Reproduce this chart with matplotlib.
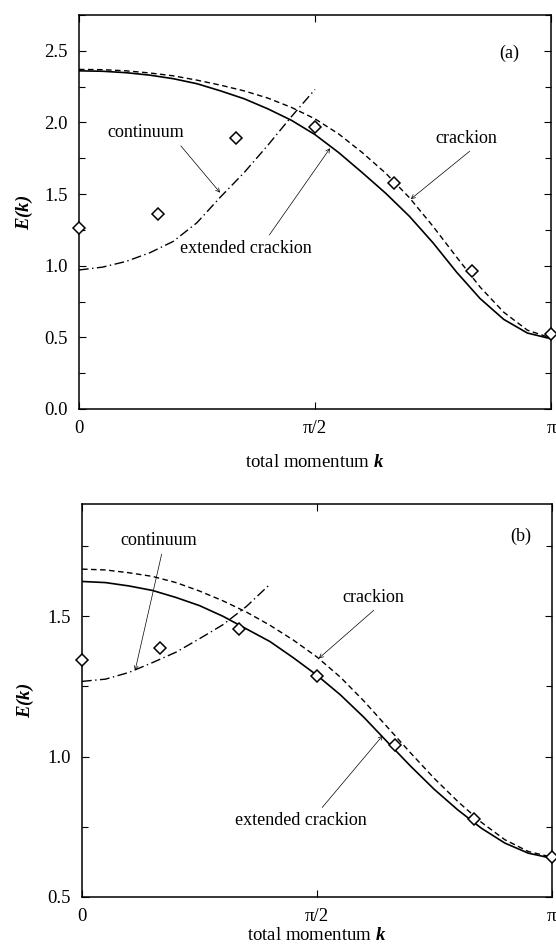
"""Crackion dispersion, panels (a) and (b)"""

import numpy as np
import matplotlib
matplotlib.use("Agg")
import matplotlib.pyplot as plt
from matplotlib.ticker import MultipleLocator

plt.rcParams['font.family'] = ['Liberation Serif', 'DejaVu Serif']
plt.rcParams['mathtext.fontset'] = 'custom'
plt.rcParams['mathtext.rm'] = 'Liberation Serif'
plt.rcParams['mathtext.it'] = 'Liberation Serif:italic'
plt.rcParams['mathtext.bf'] = 'Liberation Serif:bold:italic'

# k in units of pi
k_pts = [0, 1/6, 2/6, 3/6, 4/6, 5/6, 1]
k_curve = [0, 0.05, 0.1, 0.15, 0.2, 0.25, 0.3, 0.35, 0.4, 0.45, 0.5,
           0.55, 0.6, 0.65, 0.7, 0.75, 0.8, 0.85, 0.9, 0.95, 1.0]
k_cont_a = [0, 0.05, 0.1, 0.15, 0.2, 0.25, 0.3, 0.35, 0.4, 0.45, 0.5]
k_cont_b = [0, 0.05, 0.1, 0.15, 0.2, 0.25, 0.3, 0.35, 0.4]

# panel (a)
pts_a = [1.26, 1.36, 1.89, 1.97, 1.58, 0.96, 0.52]
ext_a = [2.36, 2.357, 2.347, 2.33, 2.305, 2.27, 2.22, 2.165, 2.095, 2.015, 1.915,
         1.79, 1.65, 1.505, 1.345, 1.16, 0.955, 0.77, 0.625, 0.53, 0.49]
crk_a = [2.37, 2.368, 2.36, 2.345, 2.325, 2.295, 2.26, 2.22, 2.17, 2.105, 2.025,
         1.92, 1.79, 1.645, 1.475, 1.275, 1.06, 0.85, 0.675, 0.55, 0.495]
cont_a = [0.97, 0.99, 1.03, 1.09, 1.17, 1.30, 1.48, 1.65, 1.84, 2.04, 2.23]

# panel (b)
pts_b = [1.343, 1.386, 1.454, 1.286, 1.043, 0.779, 0.643]
ext_b = [1.624, 1.62, 1.608, 1.592, 1.567, 1.538, 1.50, 1.455, 1.41, 1.352, 1.29,
         1.22, 1.14, 1.052, 0.965, 0.883, 0.81, 0.745, 0.692, 0.656, 0.638]
crk_b = [1.668, 1.665, 1.655, 1.642, 1.62, 1.59, 1.555, 1.515, 1.468, 1.415, 1.355,
         1.283, 1.198, 1.105, 1.012, 0.922, 0.84, 0.766, 0.704, 0.662, 0.642]
cont_b = [1.268, 1.276, 1.300, 1.335, 1.372, 1.42, 1.47, 1.535, 1.614]

xtick_labels = ['0', 'π/2', 'π']

fig = plt.figure(figsize=(5.56, 9.52), dpi=100)
ax_a = fig.add_axes([0.142, 0.5704, 0.849, 0.4139])
ax_b = fig.add_axes([0.1475, 0.0578, 0.845, 0.4128])

arrow = dict(arrowstyle='->', lw=0.5, color='black', shrinkA=2, shrinkB=0,
             mutation_scale=7)


def draw(ax, ext, crk, cont, k_cont, pts, ylim, xpad, ypad):
    pi = np.pi
    ax.plot(np.array(k_curve) * pi, ext, color='black', lw=1.2)
    ax.plot(np.array(k_curve) * pi, crk, color='black', lw=1.0,
            dashes=(4, 2.5))
    ax.plot(np.array(k_cont) * pi, cont, color='black', lw=1.0,
            dashes=(7, 2.5, 1, 2.5))
    ax.plot(np.array(k_pts) * pi, pts, 'D', ms=6, mfc='white', mec='black',
            mew=1.1, clip_on=False, zorder=5)
    ax.set_xlim(0, pi)
    ax.set_ylim(*ylim)
    ax.set_xticks([0, pi / 2, pi])
    ax.set_xticklabels(xtick_labels)
    ax.yaxis.set_major_locator(MultipleLocator(0.5))
    ax.yaxis.set_minor_locator(MultipleLocator(0.25))
    ax.yaxis.set_major_formatter(lambda v, p: f"{v:.1f}")
    ax.tick_params(which='both', direction='in', top=True, right=True,
                   labelsize=13.5, pad=8, width=0.8)
    ax.tick_params(which='major', length=5)
    ax.tick_params(which='minor', length=4)
    for s in ax.spines.values():
        s.set_linewidth(1.1)
    ax.set_xlabel(r'total momentum $\mathbf{k}$', fontsize=13.5, labelpad=xpad)
    ax.set_ylabel(r'$\mathbf{E(k)}$', fontsize=13.5, labelpad=ypad)


draw(ax_a, ext_a, crk_a, cont_a, k_cont_a, pts_a, (0, 2.75), 12.5, 6.5)
draw(ax_b, ext_b, crk_b, cont_b, k_cont_b, pts_b, (0.5, 1.9), 1.5, 8)

pi = np.pi
fs = 13
# panel (a) labels
ax_a.text(0.911 * pi, 2.48, '(a)', fontsize=fs, ha='center', va='center')
ax_a.annotate('continuum', xy=(0.299 * pi, 1.51), xytext=(0.142 * pi, 1.93),
              fontsize=fs, ha='center', va='center',
              arrowprops=dict(arrow, relpos=(0.9, 0)))
ax_a.annotate('extended crackion', xy=(0.532 * pi, 1.82),
              xytext=(0.354 * pi, 1.12), fontsize=fs, ha='center', va='center',
              arrowprops=dict(arrow, relpos=(0.65, 1)))
ax_a.annotate('crackion', xy=(0.703 * pi, 1.465), xytext=(0.82 * pi, 1.89),
              fontsize=fs, ha='center', va='center',
              arrowprops=dict(arrow, relpos=(0.65, 0)))

# panel (b) labels
ax_b.text(0.934 * pi, 1.786, '(b)', fontsize=fs, ha='center', va='center')
ax_b.annotate('continuum', xy=(0.113 * pi, 1.307), xytext=(0.164 * pi, 1.771),
              fontsize=fs, ha='center', va='center',
              arrowprops=dict(arrow, relpos=(0.55, 0)))
ax_b.annotate('crackion', xy=(0.504 * pi, 1.35), xytext=(0.619 * pi, 1.568),
              fontsize=fs, ha='center', va='center',
              arrowprops=dict(arrow, relpos=(0.6, 0)))
ax_b.annotate('extended crackion', xy=(0.640 * pi, 1.075),
              xytext=(0.466 * pi, 0.771), fontsize=fs, ha='center', va='center',
              arrowprops=dict(arrow, relpos=(0.63, 1)))

fig.savefig('out.png', dpi=100)
